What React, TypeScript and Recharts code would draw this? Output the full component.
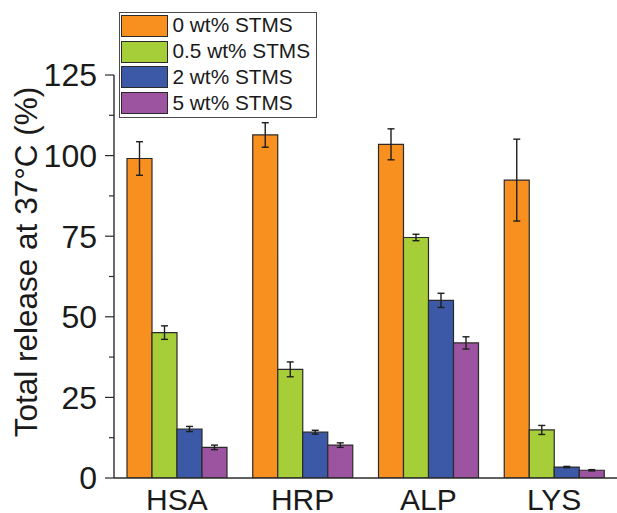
import React from 'react';
import { BarChart, Bar, XAxis, YAxis, ErrorBar, Legend } from 'recharts';

const categories = ['HSA', 'HRP', 'ALP', 'LYS'];
const seriesNames = ['0 wt% STMS', '0.5 wt% STMS', '2 wt% STMS', '5 wt% STMS'];
const seriesColors = ['#F7901E', '#A6CE39', '#3C59A8', '#9C54A0'];
const values0 = [99.1, 106.4, 103.5, 92.4];
const errors0 = [5.2, 3.8, 4.8, 12.7];
const values05 = [45.1, 33.7, 74.6, 14.9];
const errors05 = [2.1, 2.3, 1.0, 1.4];
const values2 = [15.2, 14.2, 55.1, 3.4];
const errors2 = [0.8, 0.6, 2.2, 0.2];
const values5 = [9.5, 10.2, 41.9, 2.4];
const errors5 = [0.7, 0.7, 1.9, 0.2];
const yTicks = [0, 12.5, 25, 37.5, 50, 62.5, 75, 87.5, 100, 112.5, 125];
const yMajorStep = 25;

const seriesValues = [values0, values05, values2, values5];
const seriesErrors = [errors0, errors05, errors2, errors5];

const data = categories.map((c, i) => {
  const row: any = { name: c };
  seriesValues.forEach((vals, s) => {
    row['s' + s] = vals[i];
    row['e' + s] = seriesErrors[s][i];
  });
  return row;
});

const FONT = '"Liberation Sans", Arial, sans-serif';
const AXIS = '#2b2b2b';

const YTick = (props: any) => {
  const { x, y, payload } = props;
  const v = payload.value;
  const major = v % yMajorStep === 0;
  return (
    <g>
      <line x1={x - (major ? 9 : 5)} x2={x} y1={y} y2={y} stroke={AXIS} strokeWidth={1.2} />
      {major && (
        <text x={x - 17} y={y} dy="0.355em" textAnchor="end" fontSize={32} fontFamily={FONT} fill="#1a1a1a">
          {v}
        </text>
      )}
    </g>
  );
};

const LegendContent = () => (
  <div
    style={{
      border: '1.5px solid #4a4a4a',
      background: '#fff',
      boxSizing: 'border-box',
      width: 198,
      height: 106,
      padding: '0 0 0 0.5px',
    }}
  >
    {seriesNames.map((n, i) => (
      <div key={n} style={{ display: 'flex', alignItems: 'center', height: 25.75 }}>
        <div
          style={{
            width: 47,
            height: 22,
            boxSizing: 'border-box',
            background: seriesColors[i],
            border: '1.2px solid #2a2a2a',
          }}
        />
        <span style={{ marginLeft: 5, fontSize: 20.8, fontFamily: FONT, color: '#1a1a1a', lineHeight: 1 }}>{n}</span>
      </div>
    ))}
  </div>
);

export default function App() {
  return (
    <div style={{ position: 'absolute', left: 0, top: 0, width: 617, height: 513, background: '#fff' }}>
      <BarChart
        width={617}
        height={513}
        data={data}
        margin={{ top: 75, right: 0, bottom: 0, left: 0 }}
        barSize={25}
        barGap={0}
      >
        <XAxis
          dataKey="name"
          height={35}
          tickLine={false}
          tickSize={0}
          tickMargin={11}
          axisLine={{ stroke: AXIS, strokeWidth: 1.4 }}
          tick={{ fontSize: 30, fontFamily: FONT, fill: '#1a1a1a' }}
          interval={0}
        />
        <YAxis
          width={114}
          domain={[0, 125]}
          ticks={yTicks}
          interval={0}
          tickLine={false}
          tickSize={0}
          tickMargin={0}
          axisLine={{ stroke: AXIS, strokeWidth: 1.4 }}
          tick={<YTick />}
          allowDataOverflow
        />
        <Legend
          layout="vertical"
          align="center"
          verticalAlign="middle"
          wrapperStyle={{ left: 119, top: 12, width: 198, height: 106 }}
          content={<LegendContent />}
        />
        {seriesNames.map((n, s) => (
          <Bar
            key={n}
            dataKey={'s' + s}
            name={n}
            fill={seriesColors[s]}
            stroke="#2a2a2a"
            strokeWidth={1.2}
            isAnimationActive={false}
          >
            <ErrorBar dataKey={'e' + s} width={3.5} stroke="#1e1e1e" strokeWidth={1.4} direction="y" />
          </Bar>
        ))}
        <text
          transform="translate(37,262) rotate(-90)"
          textAnchor="middle"
          fontSize={31.5}
          fontFamily={FONT}
          fill="#1a1a1a"
        >
          Total release at 37°C (%)
        </text>
      </BarChart>
    </div>
  );
}
